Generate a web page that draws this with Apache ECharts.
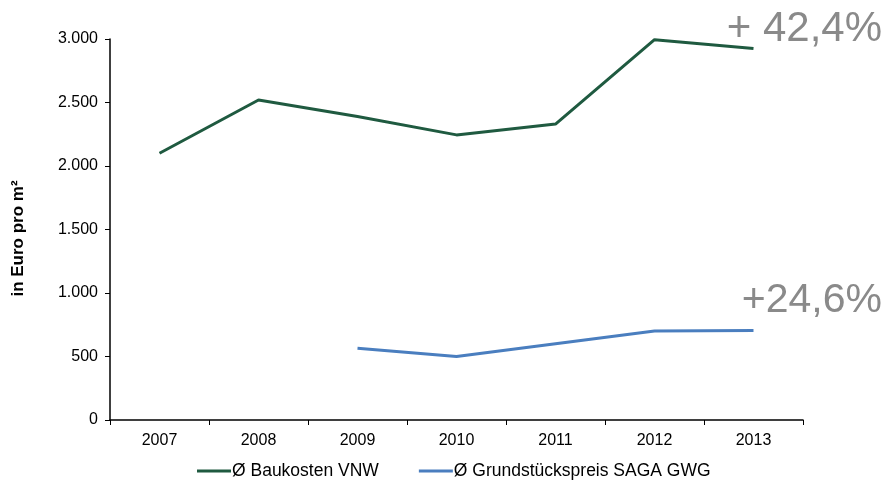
<!DOCTYPE html>
<html>
<head>
<meta charset="utf-8">
<script src="https://cdn.jsdelivr.net/npm/echarts@6/dist/echarts.min.js"></script>
<style>
  html, body { margin: 0; padding: 0; background: #fff; }
  #chart { width: 888px; height: 487px; }
</style>
</head>
<body>
<div id="chart"></div>
<script>
// Jahre auf der x-Achse
var years = ['2007', '2008', '2009', '2010', '2011', '2012', '2013'];
// Durchschnittliche Baukosten VNW (Euro pro m²)
var baukosten = [2100, 2520, 2390, 2245, 2330, 2995, 2925];
// Durchschnittlicher Grundstückspreis SAGA GWG (Euro pro m²), ab 2009
var grundstueck = [null, null, 565, 500, 600, 700, 705];
// Veränderung im Zeitraum
var changeLabels = ['+ 42,4%', '+24,6%'];

var FONT = '"Liberation Sans", Arial, Helvetica, sans-serif';
var chart = echarts.init(document.getElementById('chart'));

chart.setOption({
  animation: false,
  backgroundColor: '#ffffff',
  grid: { left: 110, right: 85, top: 39, bottom: 67, containLabel: false },
  legend: {
    bottom: 2,
    left: 192,
    itemWidth: 34,
    itemHeight: 3,
    itemGap: 40,
    icon: 'rect',
    textStyle: { fontFamily: FONT, fontSize: 17.5, color: '#000', padding: [0, 0, 0, -4] },
    data: ['Ø Baukosten VNW', 'Ø Grundstückspreis SAGA GWG']
  },
  xAxis: {
    type: 'category',
    data: years,
    boundaryGap: true,
    axisLine: { lineStyle: { color: '#000', width: 1.5 } },
    axisTick: { show: true, length: 5, lineStyle: { color: '#000', width: 1 } },
    axisLabel: { fontFamily: FONT, fontSize: 16, color: '#000', margin: 13 },
    splitLine: { show: false }
  },
  yAxis: {
    type: 'value',
    min: 0,
    max: 3000,
    interval: 500,
    name: 'in Euro pro m²',
    nameLocation: 'middle',
    nameRotate: 90,
    nameGap: 83,
    nameTextStyle: {
      fontFamily: FONT, fontSize: 17, fontWeight: 'bold', color: '#000',
      padding: [0, 18, 0, 0]
    },
    axisLine: { show: true, lineStyle: { color: '#000', width: 1.5 } },
    axisTick: { show: true, length: 5, lineStyle: { color: '#000', width: 1 } },
    axisLabel: {
      fontFamily: FONT, fontSize: 16, color: '#000', margin: 12,
      formatter: function (v) { return v >= 1000 ? (v / 1000).toFixed(3) : String(v); }
    },
    splitLine: { show: false }
  },
  series: [
    {
      name: 'Ø Baukosten VNW',
      type: 'line',
      data: baukosten,
      symbol: 'none',
      itemStyle: { color: '#1f5a40' },
      lineStyle: { color: '#1f5a40', width: 3 }
    },
    {
      name: 'Ø Grundstückspreis SAGA GWG',
      type: 'line',
      data: grundstueck,
      symbol: 'none',
      itemStyle: { color: '#4a7ebf' },
      lineStyle: { color: '#4a7ebf', width: 3 }
    }
  ],
  graphic: [
    {
      type: 'text', right: 6, top: 8,
      style: { text: changeLabels[0], fontFamily: FONT, fontSize: 42, fill: '#8a8a8a' }
    },
    {
      type: 'text', right: 6, top: 280,
      style: { text: changeLabels[1], fontFamily: FONT, fontSize: 41, fill: '#8a8a8a' }
    }
  ]
});
</script>
</body>
</html>
